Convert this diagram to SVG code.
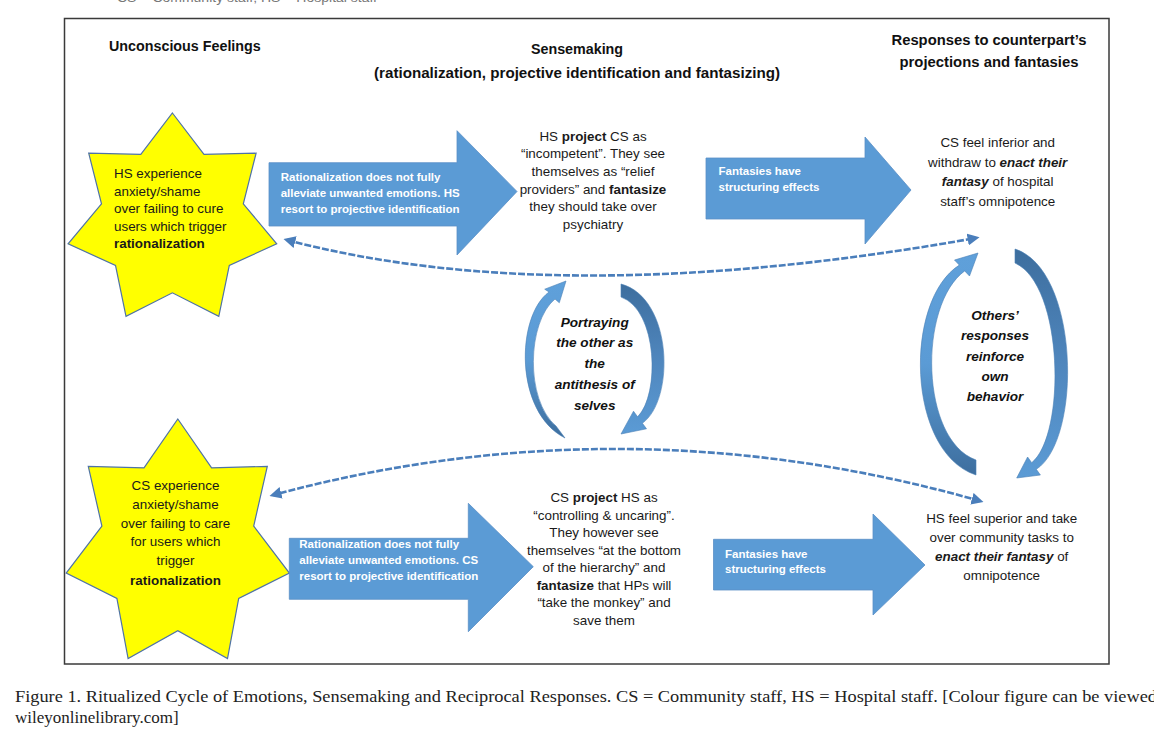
<svg xmlns="http://www.w3.org/2000/svg" width="1154" height="743" viewBox="0 0 1154 743">
<style>
.t{font-family:"Liberation Sans",Arial,sans-serif;font-size:13.4px;fill:#1a1a1a}
.c{text-anchor:middle}
.h{font-family:"Liberation Sans",Arial,sans-serif;font-size:14.3px;font-weight:bold;fill:#111}
.w{font-family:"Liberation Sans",Arial,sans-serif;font-size:11.5px;font-weight:bold;fill:#fff}
.bi{font-family:"Liberation Sans",Arial,sans-serif;font-size:13.6px;font-weight:bold;font-style:italic;fill:#111;text-anchor:middle}
.b{font-weight:bold}
.em{font-weight:bold;font-style:italic}
.star{fill:#ffff00;stroke:#4f73a6;stroke-width:1.2}
.blk{fill:#5b9bd5;stroke:#5a8fc6;stroke-width:0.8}
.dash{fill:none;stroke:#4a7ebb;stroke-width:2.6;stroke-dasharray:7 2}
.cap{font-family:"Liberation Serif","Times New Roman",serif;font-size:17px;fill:#222}
</style>
<defs>
<marker id="ah" viewBox="0 0 10 10" refX="7" refY="5" markerWidth="12" markerHeight="12" markerUnits="userSpaceOnUse" orient="auto-start-reverse">
<path d="M0,0 L10,5 L0,10 z" fill="#4a7ebb"/>
</marker>
<linearGradient id="gl" x1="0" y1="1" x2="0" y2="0">
<stop offset="0" stop-color="#3d6e9e"/>
<stop offset="0.5" stop-color="#5b9bd5"/>
<stop offset="1" stop-color="#5fa0da"/>
</linearGradient>
<linearGradient id="gr" x1="0" y1="0" x2="0" y2="1">
<stop offset="0" stop-color="#3d6e9e"/>
<stop offset="0.5" stop-color="#4f86bd"/>
<stop offset="1" stop-color="#5b9bd5"/>
</linearGradient>
</defs>
<rect width="1154" height="743" fill="#fff"/>
<text x="117" y="1.5" font-family="Liberation Sans, Arial, sans-serif" font-size="13" fill="#777" textLength="260" lengthAdjust="spacingAndGlyphs">CS = Community staff; HS = Hospital staff</text>
<rect x="64.5" y="18.5" width="1044.5" height="645.5" fill="#fff" stroke="#3a3a3a" stroke-width="1.5"/>

<g id="headers">
<text class="h" x="109" y="51">Unconscious Feelings</text>
<text class="h c" x="577" y="54">Sensemaking</text>
<text class="h c" x="577" y="78" textLength="406" lengthAdjust="spacingAndGlyphs">(rationalization, projective identification and fantasizing)</text>
<text class="h c" x="989" y="45" textLength="195" lengthAdjust="spacingAndGlyphs">Responses to counterpart’s</text>
<text class="h c" x="989" y="67" textLength="179" lengthAdjust="spacingAndGlyphs">projections and fantasies</text>
</g>

<g id="connectors">
<path class="dash" d="M287,240 Q560,312 976,238" marker-start="url(#ah)" marker-end="url(#ah)"/>
<path class="dash" d="M980,501 Q625,400 273,495" marker-start="url(#ah)" marker-end="url(#ah)"/>
</g>

<g id="star-hs">
<polygon class="star" points="172.4,113 204,154.4 256.1,153.2 243.3,203.8 276.7,243.9 229.3,265.4 218.8,316.4 172.4,292.8 126,316.4 115.5,265.4 68.1,243.9 101.5,203.8 88.7,153.2 140.8,154.4"/>
<text class="t"><tspan x="114" y="177.5">HS experience</tspan><tspan x="114" y="195.5">anxiety/shame</tspan><tspan x="114" y="213">over failing to cure</tspan><tspan x="114" y="230.5">users which trigger</tspan><tspan x="114" y="248" class="b">rationalization</tspan></text>
</g>

<g id="star-cs">
<polygon class="star" points="177.8,419 211.6,467.8 267.3,466.4 253.7,526 289.4,573.1 238.7,598.4 227.5,658.5 177.8,630.7 128.1,658.5 116.9,598.4 66.2,573.1 101.9,526 88.3,466.4 144,467.8"/>
<text class="t c"><tspan x="175.5" y="489.5">CS experience</tspan><tspan x="175.5" y="508.5">anxiety/shame</tspan><tspan x="175.5" y="527.5">over failing to care</tspan><tspan x="175.5" y="546">for users which</tspan><tspan x="175.5" y="565">trigger</tspan><tspan x="175.5" y="584.5" class="b">rationalization</tspan></text>
</g>

<g id="arrow-hs-rationalization">
<path class="blk" d="M269,162.7 H457 V130.7 L517,191.5 L457,255 V226 H269 Z"/>
<text class="w"><tspan x="280.7" y="180.8">Rationalization does not fully</tspan><tspan x="280.7" y="196.5">alleviate unwanted emotions. HS</tspan><tspan x="280.7" y="212.5">resort to projective identification</tspan></text>
</g>

<g id="arrow-cs-rationalization">
<path class="blk" d="M289.3,538.3 H468.3 V503.3 L533.3,566.7 L468.3,631.7 V599.3 H289.3 Z"/>
<text class="w"><tspan x="299.3" y="548">Rationalization does not fully</tspan><tspan x="299.3" y="564">alleviate unwanted emotions. CS</tspan><tspan x="299.3" y="580">resort to projective identification</tspan></text>
</g>

<g id="hs-sensemaking">
<text class="t c"><tspan x="593" y="140.5">HS <tspan class="b">project</tspan> CS as</tspan><tspan x="593" y="158">“incompetent”. They see</tspan><tspan x="593" y="175.5">themselves as “relief</tspan><tspan x="593" y="193.5">providers” and <tspan class="b">fantasize</tspan></tspan><tspan x="593" y="211">they should take over</tspan><tspan x="593" y="228.5">psychiatry</tspan></text>
</g>

<g id="cs-sensemaking">
<text class="t c"><tspan x="604" y="502">CS <tspan class="b">project</tspan> HS as</tspan><tspan x="604" y="519.5">“controlling &amp; uncaring”.</tspan><tspan x="604" y="537">They however see</tspan><tspan x="604" y="554.5">themselves “at the bottom</tspan><tspan x="604" y="572">of the hierarchy” and</tspan><tspan x="604" y="589.5"><tspan class="b">fantasize</tspan> that HPs will</tspan><tspan x="604" y="607">“take the monkey” and</tspan><tspan x="604" y="624.5">save them</tspan></text>
</g>

<g id="arrow-fantasies-top">
<path class="blk" d="M706,158 H865 V137 L911,190 L865,244 V219 H706 Z"/>
<text class="w"><tspan x="718.5" y="175">Fantasies have</tspan><tspan x="718.5" y="191">structuring effects</tspan></text>
</g>

<g id="arrow-fantasies-bottom">
<path class="blk" d="M713.5,539.3 H873 V514 L925,565 L873,615 V590 H713.5 Z"/>
<text class="w"><tspan x="725" y="557.7">Fantasies have</tspan><tspan x="725" y="573.3">structuring effects</tspan></text>
</g>

<g id="cs-response">
<text class="t c"><tspan x="997.7" y="147">CS feel inferior and</tspan><tspan x="997.7" y="166.5">withdraw to <tspan class="em">enact their</tspan></tspan><tspan x="997.7" y="186"><tspan class="em">fantasy</tspan> of hospital</tspan><tspan x="997.7" y="206">staff’s omnipotence</tspan></text>
</g>

<g id="hs-response">
<text class="t c"><tspan x="1001.7" y="523">HS feel superior and take</tspan><tspan x="1001.7" y="542">over community tasks to</tspan><tspan x="1001.7" y="560.5"><tspan class="em">enact their fantasy</tspan> of</tspan><tspan x="1001.7" y="579.5">omnipotence</tspan></text>
</g>

<g id="cycle-portraying">
<path fill="url(#gl)" stroke="#4a7fb5" stroke-width="0.6" d="M565,438 C514,412 516,316 549,292 L544.7,289.2 L566,281 L559.3,302.8 L555,299 C527,322 525,400 556,426 Z"/>
<path fill="url(#gr)" stroke="#4a7fb5" stroke-width="0.6" d="M621,284 C673,298 675,400 642.4,423.2 L646.5,428.8 L621,434 L633.5,411.2 L637.6,416.8 C660,395 658,310 621,297 Z"/>
<text class="bi"><tspan x="594.7" y="327">Portraying</tspan><tspan x="594.7" y="346.5">the other as</tspan><tspan x="594.7" y="368">the</tspan><tspan x="594.7" y="389">antithesis of</tspan><tspan x="594.7" y="409.5">selves</tspan></text>
</g>

<g id="cycle-reinforce">
<path fill="url(#gl)" stroke="#4a7fb5" stroke-width="0.6" d="M976,475 C906,452 904,300 959.3,265.1 L954.5,260 L978,253 L969.5,276 L964.7,270.9 C918,305 920,440 976,460 Z"/>
<path fill="url(#gr)" stroke="#4a7fb5" stroke-width="0.6" d="M1015,249 C1080,270 1082,440 1036.3,469.3 L1040.4,475 L1016.7,478 L1027.6,457 L1031.7,462.7 C1066,435 1064,285 1015,263 Z"/>
<text class="bi"><tspan x="995" y="319.5">Others’</tspan><tspan x="995" y="340">responses</tspan><tspan x="995" y="361">reinforce</tspan><tspan x="995" y="381">own</tspan><tspan x="995" y="401">behavior</tspan></text>
</g>

<g id="caption">
<text class="cap" x="15" y="702" textLength="1142" lengthAdjust="spacingAndGlyphs">Figure 1. Ritualized Cycle of Emotions, Sensemaking and Reciprocal Responses. CS = Community staff, HS = Hospital staff. [Colour figure can be viewed</text>
<text class="cap" x="15" y="723">wileyonlinelibrary.com]</text>
</g>
</svg>
